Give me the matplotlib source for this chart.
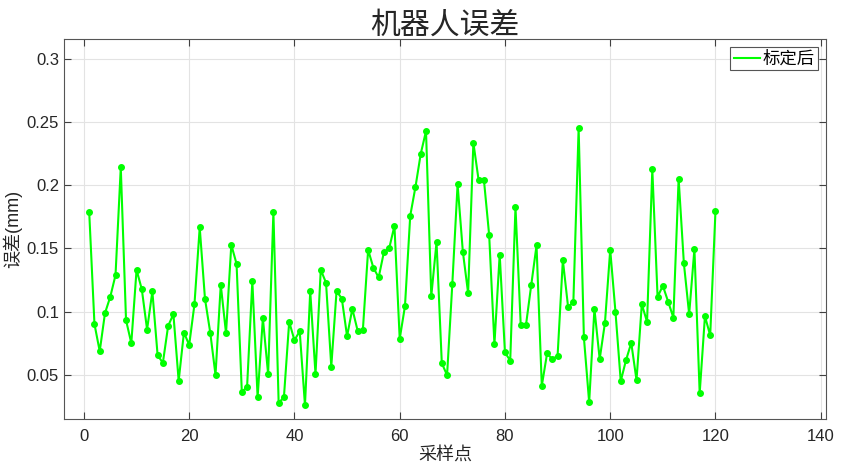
import matplotlib as mpl
import matplotlib.pyplot as plt
from matplotlib.ticker import FuncFormatter

mpl.rcParams["font.family"] = ["Liberation Sans", "Noto Sans CJK SC", "DejaVu Sans"]
mpl.rcParams["axes.unicode_minus"] = False

# sample index and error after calibration
sample_idx = list(range(1, 121))
err_after = [
    0.179, 0.090, 0.0685, 0.0987, 0.1116, 0.1288, 0.2143, 0.0931, 0.0749, 0.1331,
    0.1175, 0.0857, 0.1159, 0.0653, 0.0593, 0.0886, 0.0979, 0.0450, 0.0833, 0.0735,
    0.1056, 0.1667, 0.1101, 0.0833, 0.0497, 0.1212, 0.0828, 0.1529, 0.1378, 0.0362,
    0.0402, 0.1241, 0.0320, 0.0947, 0.0503, 0.1788, 0.0275, 0.0320, 0.0918, 0.0772,
    0.0844, 0.0257, 0.1161, 0.0503, 0.1331, 0.1228, 0.0563, 0.1161, 0.1103, 0.0804,
    0.1021, 0.0849, 0.0852, 0.1489, 0.1347, 0.1270, 0.1471, 0.1500, 0.1680, 0.0783,
    0.1042, 0.1759, 0.1989, 0.2251, 0.2431, 0.1122, 0.1550, 0.0590, 0.0495, 0.1220,
    0.2008, 0.1474, 0.1146, 0.2339, 0.2040, 0.2045, 0.1606, 0.0741, 0.1452, 0.0675,
    0.0611, 0.1828, 0.0889, 0.0894, 0.1212, 0.1524, 0.0410, 0.0667, 0.0622, 0.0648,
    0.1407, 0.1034, 0.1077, 0.2455, 0.0794, 0.0280, 0.1021, 0.0622, 0.0910, 0.1489,
    0.0997, 0.0447, 0.0614, 0.0751, 0.0455, 0.1058, 0.0918, 0.2127, 0.1116, 0.1204,
    0.1079, 0.0952, 0.2053, 0.1381, 0.0979, 0.1495, 0.0352, 0.0963, 0.0810, 0.1796,
]
x_ticks = [0, 20, 40, 60, 80, 100, 120, 140]
y_ticks = [0.05, 0.1, 0.15, 0.2, 0.25, 0.3]

fig = plt.figure(figsize=(8.64, 4.66), dpi=100)
ax = fig.add_axes([0.074, 0.101, 0.882, 0.815])

ax.plot(sample_idx, err_after, color="#00ff00", lw=1.5, marker="o",
        markersize=4, label="标定后")

ax.set_xlim(-3.8, 141)
ax.set_ylim(0.0148, 0.316)
ax.set_xticks(x_ticks)
ax.set_yticks(y_ticks)
ax.yaxis.set_major_formatter(FuncFormatter(lambda v, p: "%g" % round(v, 3)))

ax.grid(True, color="#e3e3e3", lw=0.8)
ax.set_axisbelow(True)
ax.tick_params(direction="in", top=True, right=True, labelsize=12,
               color="#404040", length=5, width=0.8, labelcolor="#262626")
ax.tick_params(axis="x", pad=7)
for s in ax.spines.values():
    s.set_color("#555555")
    s.set_linewidth(0.8)

ax.set_title("机器人误差", fontsize=21.5, color="#262626", pad=4)
ax.set_xlabel("采样点", fontsize=13, color="#262626", labelpad=3)
ax.set_ylabel("误差(mm)", fontsize=13, color="#262626", labelpad=3)

leg = ax.legend(loc="upper right", fontsize=12.5, fancybox=False, framealpha=1,
                borderaxespad=0.45, handlelength=1.5, handletextpad=0.15,
                borderpad=0.2)
leg.get_frame().set_edgecolor("#555555")
leg.get_frame().set_linewidth(0.8)
leg.legend_handles[0].set_marker("")

fig.savefig("out.png", dpi=100)
